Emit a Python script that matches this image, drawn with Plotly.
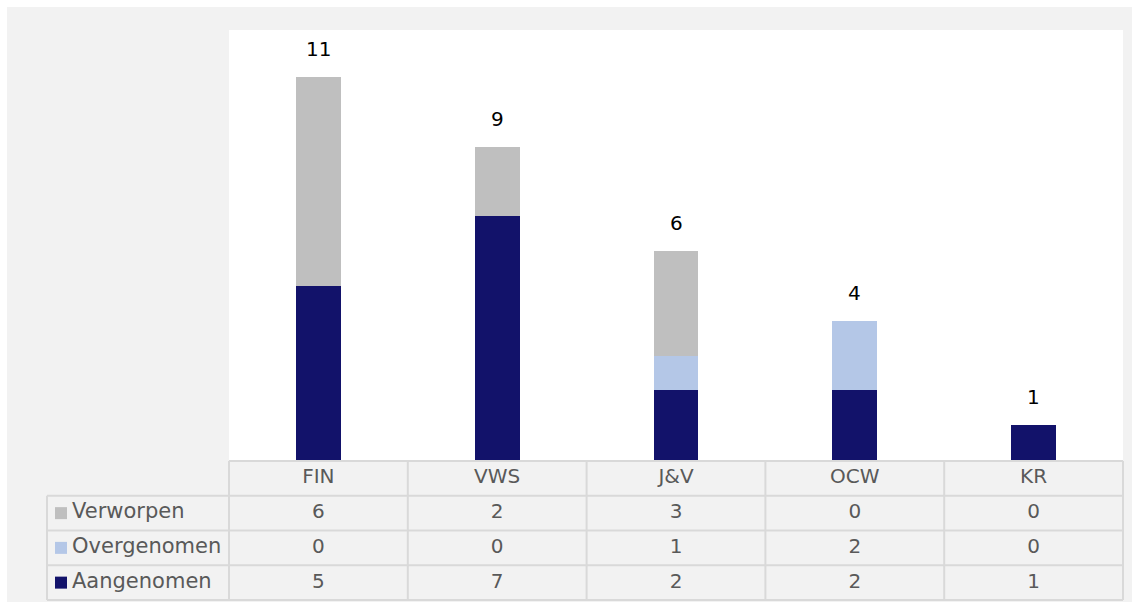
import plotly.graph_objects as go

W, H = 1132, 602

categories = ["FIN", "VWS", "J&V", "OCW", "KR"]
aangenomen = [5, 7, 2, 2, 1]
overgenomen = [0, 0, 1, 2, 0]
verworpen = [6, 2, 3, 0, 0]
totals = [a + o + v for a, o, v in zip(aangenomen, overgenomen, verworpen)]

series_names = ["Aangenomen", "Overgenomen", "Verworpen"]
series_colors = {"Aangenomen": "#12126a", "Overgenomen": "#b4c7e7", "Verworpen": "#bfbfbf"}
series_values = {"Aangenomen": aangenomen, "Overgenomen": overgenomen, "Verworpen": verworpen}
table_rows = ["Verworpen", "Overgenomen", "Aangenomen"]

FONT = "DejaVu Sans, Verdana, sans-serif"
BG = "#f2f2f2"
GRID = "#d9d9d9"
TXT = "#595959"

# pixel layout of the chart and the data table
PLOT_L, PLOT_R, PLOT_T, PLOT_B = 229, 1123, 30, 460
TAB_L, TAB_T, TAB_B = 47, 461, 600


def px_x(p):
    return p / W


def px_y(p):
    return 1 - p / H


fig = go.Figure()

# stacked bars
for name in series_names:
    fig.add_trace(go.Bar(
        x=categories, y=series_values[name], name=name,
        marker=dict(color=series_colors[name], line=dict(width=0)),
        width=0.25, xaxis="x", yaxis="y",
    ))

# data table: header row (row 0) and one row per series (rows 1..3)
n_rows = 1 + len(table_rows)
fig.add_trace(go.Scatter(
    x=categories, y=[0.5] * len(categories), mode="text", text=categories,
    textposition="middle center", xaxis="x", yaxis="y2",
    textfont=dict(family=FONT, size=20, color=TXT),
    hoverinfo="skip", showlegend=False, cliponaxis=False,
))
for r, name in enumerate(table_rows, start=1):
    fig.add_trace(go.Scatter(
        x=categories, y=[r + 0.5] * len(categories), mode="text",
        text=[str(v) for v in series_values[name]],
        textposition="middle center", xaxis="x", yaxis="y2",
        textfont=dict(family=FONT, size=20, color=TXT),
        hoverinfo="skip", showlegend=False, cliponaxis=False,
    ))

# row labels with colour keys
row_y = [r + 0.5 for r in range(1, n_rows)]
fig.add_trace(go.Scatter(
    x=[14] * len(table_rows), y=row_y, mode="markers", xaxis="x3", yaxis="y2",
    marker=dict(symbol="square", size=12, color=[series_colors[n] for n in table_rows],
                line=dict(width=0)),
    hoverinfo="skip", showlegend=False, cliponaxis=False,
))
fig.add_trace(go.Scatter(
    x=[25] * len(table_rows), y=row_y, mode="text", text=table_rows,
    textposition="middle right", xaxis="x3", yaxis="y2",
    textfont=dict(family=FONT, size=21, color=TXT),
    hoverinfo="skip", showlegend=False, cliponaxis=False,
))

# totals above each stack
annotations = [
    dict(x=c, y=t, xref="x", yref="y", text=str(t), showarrow=False,
         yanchor="middle", yshift=28, font=dict(family=FONT, size=20, color="#000000"))
    for c, t in zip(categories, totals)
]

# table grid lines
col_w = (PLOT_R - PLOT_L) / len(categories)
row_h = (TAB_B - TAB_T) / n_rows
line = dict(color=GRID, width=2)
shapes = [
    # page background
    dict(type="rect", xref="paper", yref="paper", x0=px_x(7), x1=1, y0=0, y1=px_y(7),
         fillcolor=BG, line=dict(width=0), layer="below"),
    # chart area
    dict(type="rect", xref="x domain", yref="y domain", x0=0, x1=1, y0=0, y1=1,
         fillcolor="#ffffff", line=dict(width=0), layer="below"),
    dict(type="line", xref="paper", yref="paper", x0=px_x(PLOT_L), x1=px_x(PLOT_R),
         y0=px_y(TAB_T), y1=px_y(TAB_T), line=line),
]
for k in range(1, n_rows + 1):
    yk = TAB_T + k * row_h
    shapes.append(dict(type="line", xref="paper", yref="paper", x0=px_x(TAB_L),
                       x1=px_x(PLOT_R), y0=px_y(yk), y1=px_y(yk), line=line))
for i in range(len(categories) + 1):
    xi = PLOT_L + i * col_w
    shapes.append(dict(type="line", xref="paper", yref="paper", x0=px_x(xi), x1=px_x(xi),
                       y0=px_y(TAB_T), y1=px_y(TAB_B), line=line))
shapes.append(dict(type="line", xref="paper", yref="paper", x0=px_x(TAB_L), x1=px_x(TAB_L),
                   y0=px_y(TAB_T + row_h), y1=px_y(TAB_B), line=line))

hidden = dict(showticklabels=False, showgrid=False, zeroline=False, showline=False,
              ticks="", fixedrange=True)

fig.update_layout(
    width=W, height=H,
    margin=dict(l=0, r=0, t=0, b=0),
    paper_bgcolor="#ffffff",
    plot_bgcolor=BG,
    barmode="stack",
    showlegend=False,
    xaxis=dict(domain=[px_x(PLOT_L), px_x(PLOT_R)], anchor="y", **hidden),
    yaxis=dict(domain=[px_y(PLOT_B), px_y(PLOT_T)], range=[0, 12.36], anchor="x", **hidden),
    yaxis2=dict(domain=[px_y(TAB_B), px_y(TAB_T)], range=[n_rows, 0], anchor="x", **hidden),
    xaxis3=dict(domain=[px_x(TAB_L), px_x(PLOT_L)], range=[0, PLOT_L - TAB_L],
                anchor="y2", **hidden),
    annotations=annotations,
    shapes=shapes,
)

fig.write_html("out.html")
